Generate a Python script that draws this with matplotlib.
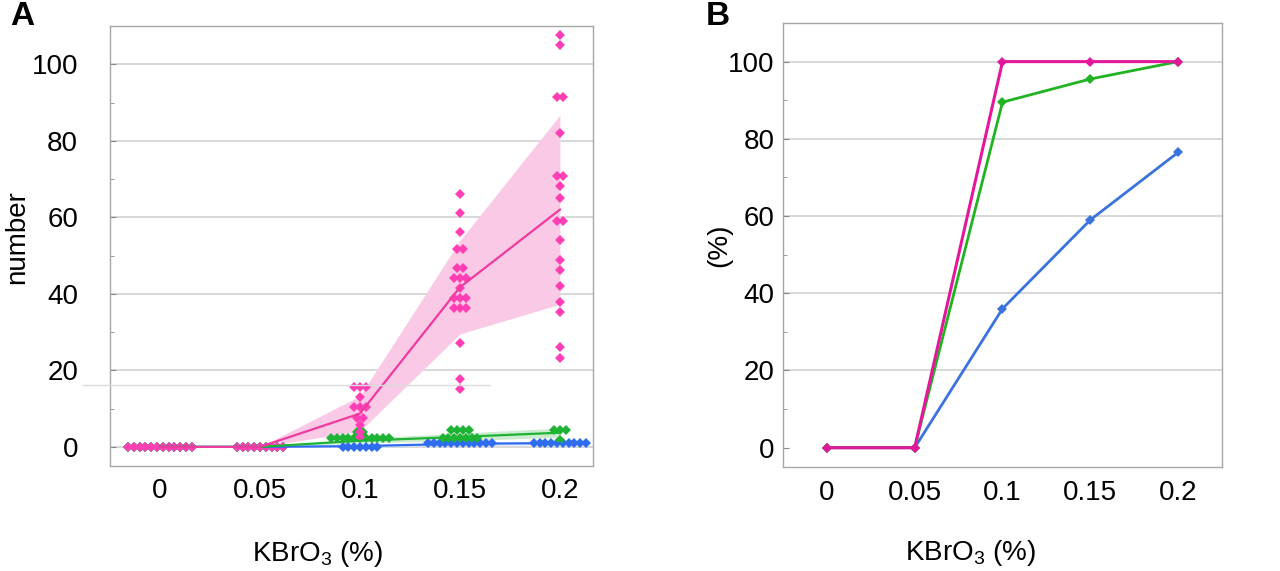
import matplotlib

matplotlib.use("Agg")
import matplotlib.pyplot as plt
from matplotlib.lines import Line2D

plt.rcParams["font.family"] = ["Liberation Sans", "DejaVu Sans"]
plt.rcParams["mathtext.fontset"] = "custom"
plt.rcParams["mathtext.rm"] = "Liberation Sans"
plt.rcParams["mathtext.default"] = "regular"

doses = ["0", "0.05", "0.1", "0.15", "0.2"]

# panel A: individual counts per dose
pink_pts = [
    [0] * 12,
    [0] * 9,
    [15.6, 15.6, 15.6, 13.0, 10.3, 10.3, 10.3, 7.6, 7.6, 5.8, 4.0, 2.6],
    [66.1, 61.2, 56.1, 51.7, 51.7, 46.7, 46.7, 44.1, 44.1, 44.1, 41.5,
     38.9, 38.9, 38.9, 36.3, 36.3, 36.3, 27.2, 17.8, 15.1],
    [107.6, 105.0, 91.5, 91.5, 82.0, 70.8, 70.8, 68.1, 65.0, 59.1, 59.1,
     54.0, 48.8, 46.2, 42.1, 37.8, 35.2, 26.2, 23.2],
]
green_pts = [
    [0] * 12,
    [0] * 9,
    [2.4] * 11 + [3.9, 3.9],
    [4.4] * 4 + [2.4] * 7,
    [4.4] * 3 + [1.8],
]
blue_pts = [
    [0] * 12,
    [0] * 9,
    [0] * 7,
    [1.0] * 12,
    [1.0] * 10,
]

# panel A: fitted mean and spread
pink_mean = [0, 0, 8.7, 41.7, 62.0]
pink_sd = [0, 0, 4.6, 12.2, 24.7]
green_mean = [0, 0, 1.6, 2.6, 3.7]
green_sd = [0, 0, 0.6, 1.0, 1.2]
blue_mean = [0, 0, 0.2, 0.8, 1.0]
blue_sd = [0, 0, 0.3, 0.4, 0.4]

# panel B: percentages
pct_pink = [0, 0, 100, 100, 100]
pct_green = [0, 0, 89.5, 95.5, 100]
pct_blue = [0, 0, 36, 59, 76.5]

PINK_PT = "#ff3fb3"
PINK_LN = "#ef3a9f"
PINK_BAND = "#f9c9e6"
GREEN = "#1fb336"
BLUE = "#2e6cf0"
GRID = "#d6d6d6"
FRAME = "#a8a8a8"


def swarm(groups, dx=0.058):
    xs, ys = [], []
    for i, vals in enumerate(groups):
        for v in sorted(set(vals)):
            n = vals.count(v)
            for k in range(n):
                xs.append(i + (k - (n - 1) / 2) * dx)
                ys.append(v)
    return xs, ys


def style_axes(ax, pad):
    for s in ax.spines.values():
        s.set_color(FRAME)
        s.set_linewidth(1.0)
    ax.tick_params(axis="y", which="both", direction="in", color="#888888",
                   labelsize=20, pad=pad)
    ax.tick_params(axis="y", which="major", length=4)
    ax.tick_params(axis="y", which="minor", length=3)
    ax.tick_params(axis="x", length=0, labelsize=20, pad=9)
    ax.set_axisbelow(True)


fig = plt.figure(figsize=(12.8, 5.71), dpi=100)

# ---------- A ----------
axA = fig.add_axes([0.0859, 0.1839, 0.3773, 0.7706])
x = list(range(len(doses)))

for mean, sd, band in [
    (blue_mean, blue_sd, "#d3def7"),
    (green_mean, green_sd, "#cdeccf"),
    (pink_mean, pink_sd, PINK_BAND),
]:
    axA.fill_between(x, [m - s for m, s in zip(mean, sd)],
                     [m + s for m, s in zip(mean, sd)], color=band, lw=0, zorder=1)

for pts, col in [(blue_pts, BLUE), (green_pts, GREEN), (pink_pts, PINK_PT)]:
    xs, ys = swarm(pts)
    axA.plot(xs, ys, "D", ms=5.2, color=col, mew=0, zorder=3)

axA.plot(x, blue_mean, color=BLUE, lw=1.6, zorder=4)
axA.plot(x, green_mean, color=GREEN, lw=1.6, zorder=4)
axA.plot(x, pink_mean, color=PINK_LN, lw=1.6, zorder=4)

axA.set_xlim(-0.5, 4.33)
axA.set_ylim(-5, 110)
axA.set_yticks([0, 20, 40, 60, 80, 100])
axA.set_yticks(range(10, 110, 20), minor=True)
axA.set_xticks(x)
axA.set_xticklabels(doses)
axA.yaxis.grid(True, which="major", color=GRID, lw=1.3)
style_axes(axA, pad=23)
axA.set_ylabel("number", fontsize=20)
axA.yaxis.set_label_coords(-0.165, 0.52)
axA.set_xlabel("KBrO$_3$ (%)", fontsize=20)
axA.xaxis.set_label_coords(0.43, -0.165)

# stray rule seen in the figure
fig.add_artist(Line2D([83 / 1280, 490 / 1280], [1 - 385 / 571] * 2,
                      color="#dcdcdc", lw=1.0))

# ---------- B ----------
axB = fig.add_axes([0.6117, 0.1821, 0.3430, 0.7776])
axB.plot(x, pct_blue, "-D", color="#3a73dc", lw=2.0, ms=5.5, mew=0, zorder=3)
axB.plot(x, pct_green, "-D", color="#22b322", lw=2.0, ms=5.5, mew=0, zorder=4)
axB.plot(x, pct_pink, "-D", color="#e3179b", lw=2.2, ms=5.5, mew=0, zorder=5)
axB.set_xlim(-0.5, 4.5)
axB.set_ylim(-5, 110)
axB.set_yticks([0, 20, 40, 60, 80, 100])
axB.set_yticks(range(10, 110, 20), minor=True)
axB.set_xticks(x)
axB.set_xticklabels(doses)
for yv in [20, 40, 60, 80, 100]:
    axB.axhline(yv, color=GRID, lw=1.3, zorder=0)
style_axes(axB, pad=6)
axB.set_ylabel("(%)", fontsize=20)
axB.yaxis.set_label_coords(-0.116, 0.5)
axB.set_xlabel("KBrO$_3$ (%)", fontsize=20)
axB.xaxis.set_label_coords(0.426, -0.16)

fig.text(0.008, 0.998, "A", fontsize=24, fontweight="bold", va="top")
fig.text(0.551, 0.998, "B", fontsize=24, fontweight="bold", va="top")

fig.savefig("out.png", dpi=100)
